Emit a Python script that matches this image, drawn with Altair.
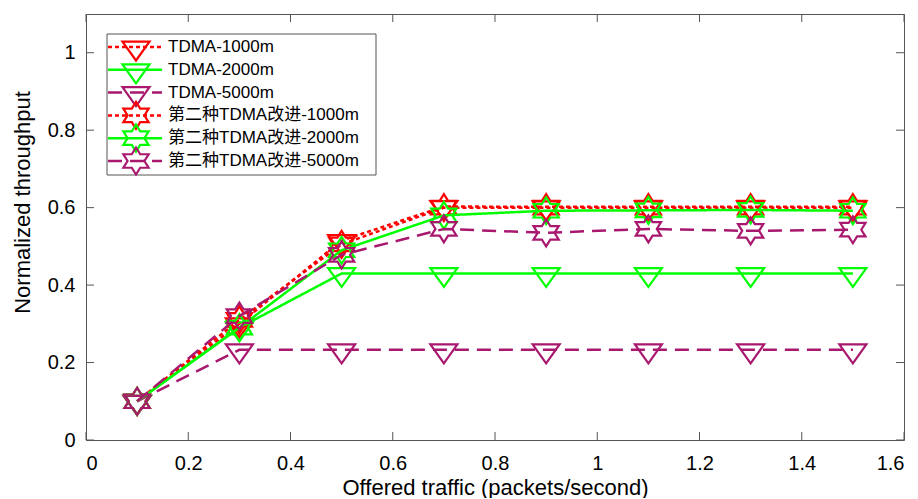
import math
import altair as alt
import pandas as pd

# ---------------- data ----------------
x_vals = [0.1, 0.3, 0.5, 0.7, 0.9, 1.1, 1.3, 1.5]
series_names = ["TDMA-1000m", "TDMA-2000m", "TDMA-5000m",
                "第二种TDMA改进-1000m", "第二种TDMA改进-2000m", "第二种TDMA改进-5000m"]
tdma_1000 = [0.10, 0.30, 0.515, 0.603, 0.602, 0.602, 0.602, 0.602]
tdma_2000 = [0.10, 0.29, 0.43, 0.43, 0.43, 0.43, 0.43, 0.43]
tdma_5000 = [0.10, 0.233, 0.233, 0.233, 0.233, 0.233, 0.233, 0.233]
imp_1000 = [0.10, 0.31, 0.505, 0.60, 0.60, 0.60, 0.60, 0.60]
imp_2000 = [0.10, 0.29, 0.49, 0.58, 0.592, 0.593, 0.594, 0.592]
imp_5000 = [0.10, 0.32, 0.478, 0.545, 0.535, 0.545, 0.54, 0.543]
all_series = [tdma_1000, tdma_2000, tdma_5000, imp_1000, imp_2000, imp_5000]

x_ticks = [0, 0.2, 0.4, 0.6, 0.8, 1, 1.2, 1.4, 1.6]
y_ticks = [0, 0.2, 0.4, 0.6, 0.8, 1]

# ---------------- styles ----------------
RED, GREEN, PURPLE = "#ff0000", "#00ff00", "#a8186e"
colors = [RED, GREEN, PURPLE, RED, GREEN, PURPLE]
dashes = [[4, 3], [1, 0], [14, 8], [4, 3], [1, 0], [14, 8]]
TRI = "M-1,-0.4L1,-0.4L0,1Z"
_pts = []
for k in range(12):
    ang = math.radians(90 - 30 * k)
    r = 1.0 if k % 2 == 0 else 1 / math.sqrt(3)
    _pts.append((1.08 * r * math.cos(ang), -r * math.sin(ang)))
HEX = "M" + "L".join(f"{px:.3f},{py:.3f}" for px, py in _pts) + "Z"
shapes = [TRI, TRI, TRI, HEX, HEX, HEX]

FONT = "Liberation Sans, Arial, Noto Sans CJK SC"
FRAME = "#555555"
W, H = 818, 426
TICK = 8

rows = []
for name, vals in zip(series_names, all_series):
    for xv, yv in zip(x_vals, vals):
        rows.append({"series": name, "x": xv, "y": yv})
df = pd.DataFrame(rows)

x_scale = alt.Scale(domain=[0, 1.6], nice=False, zero=False)
y_scale = alt.Scale(domain=[0, 1.1], nice=False, zero=False)
x_axis = alt.Axis(values=x_ticks, format="~g", title="Offered traffic (packets/second)",
                  labelFontSize=20, labelPadding=29, labelBaseline="alphabetic",
                  titleFontSize=22, titleY=54, titleBaseline="alphabetic")
y_axis = alt.Axis(values=y_ticks, format="~g", title="Normalized throughput",
                  labelFontSize=20, labelPadding=11,
                  titleFontSize=22, titleX=-64, titleY=188, titleAngle=-90,
                  titleBaseline="middle", titleAlign="center")


def xenc(field):
    return alt.X(f"{field}:Q", scale=x_scale, axis=x_axis)


def yenc(field):
    return alt.Y(f"{field}:Q", scale=y_scale, axis=y_axis)


layers = []
for name, c, d, s in zip(series_names, colors, dashes, shapes):
    base = alt.Chart(df).transform_filter(alt.datum.series == name).encode(
        x=xenc("x"), y=yenc("y"))
    layers.append(base.mark_line(color=c, strokeWidth=2.5, strokeDash=d))
    layers.append(base.mark_point(shape=s, size=729, filled=False, stroke=c,
                                  strokeWidth=2.2, opacity=1))

xt = pd.DataFrame({"v": x_ticks})
yt = pd.DataFrame({"v": y_ticks})
tick_layers = [
    alt.Chart(xt).mark_rule(color=FRAME).encode(x=xenc("v"), y=alt.value(H), y2=alt.value(H - TICK)),
    alt.Chart(xt).mark_rule(color=FRAME).encode(x=xenc("v"), y=alt.value(0), y2=alt.value(TICK)),
    alt.Chart(yt).mark_rule(color=FRAME).encode(y=yenc("v"), x=alt.value(0), x2=alt.value(TICK)),
    alt.Chart(yt).mark_rule(color=FRAME).encode(y=yenc("v"), x=alt.value(W - TICK), x2=alt.value(W)),
]

main = alt.layer(*tick_layers, *layers)

# ---------------- legend ----------------
leg_df = pd.DataFrame({"series": series_names})
leg_y = alt.Y("series:N", scale=alt.Scale(type="point", domain=series_names,
                                          range=[33, 147], padding=0), axis=None)
leg_color = alt.Color("series:N", scale=alt.Scale(domain=series_names, range=colors), legend=None)
leg_base = alt.Chart(leg_df)
box = alt.Chart(alt.Data(values=[{"a": 1}])).mark_rect(
    fill="white", stroke=FRAME, strokeWidth=1).encode(
    x=alt.value(21), x2=alt.value(290), y=alt.value(20), y2=alt.value(161))
leg_line = leg_base.mark_rule(strokeWidth=2.5).encode(
    x=alt.value(22), x2=alt.value(76), y=leg_y, color=leg_color,
    strokeDash=alt.StrokeDash("series:N", scale=alt.Scale(domain=series_names, range=dashes), legend=None))
leg_pt = leg_base.mark_point(size=729, filled=False, strokeWidth=2.2, opacity=1).encode(
    x=alt.value(50), y=leg_y, color=leg_color,
    shape=alt.Shape("series:N", scale=alt.Scale(domain=series_names, range=shapes), legend=None))
leg_txt = leg_base.mark_text(align="left", baseline="middle", fontSize=17, font=FONT, color="black").encode(
    x=alt.value(82), y=leg_y, text="series:N")
legend = alt.layer(box, leg_line, leg_pt, leg_txt)

chart = alt.layer(main, legend).resolve_scale(y="independent", color="independent").properties(
    width=W, height=H,
    autosize=alt.AutoSizeParams(type="none"),
    padding={"left": 78, "top": 6, "right": 6, "bottom": 58},
).configure_view(stroke=FRAME, strokeWidth=1).configure_axis(
    domain=False, ticks=False, tickSize=0, grid=False,
    labelFont=FONT, titleFont=FONT, labelColor="black", titleColor="black",
    titleFontWeight="normal",
)

chart.save("out.html", embed_options={"renderer": "svg", "actions": False})
